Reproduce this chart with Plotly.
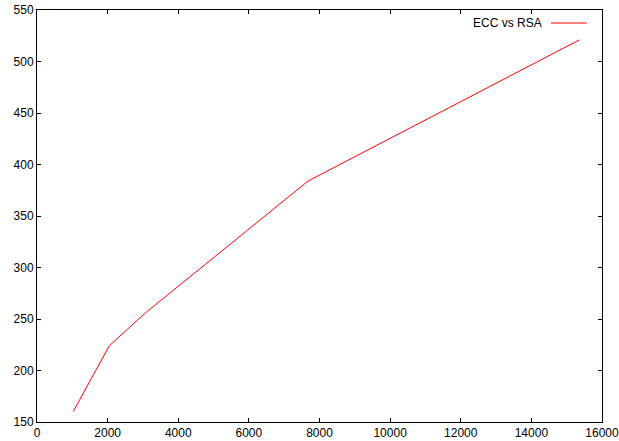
import plotly.graph_objects as go

rsa_bits = [1024, 2048, 3072, 7680, 15360]
ecc_bits = [160, 224, 256, 384, 521]
series_name = "ECC vs RSA"
x_ticks = [0, 2000, 4000, 6000, 8000, 10000, 12000, 14000, 16000]
y_ticks = [150, 200, 250, 300, 350, 400, 450, 500, 550]

W, H = 619, 441
L, R, T, B = 37, 602, 10, 422
FONT = "Liberation Sans, Arial, Helvetica, sans-serif"

fig = go.Figure()
fig.add_trace(go.Scatter(x=rsa_bits, y=ecc_bits, mode="lines",
                         line=dict(color="#ff0000", width=1), name=series_name,
                         showlegend=False, hoverinfo="skip"))

axis_common = dict(showgrid=False, zeroline=False, showline=True, linecolor="black",
                   linewidth=1, mirror="allticks", ticks="inside", ticklen=4,
                   tickcolor="black", tickwidth=1, automargin=False,
                   ticklabeloverflow="allow",
                   tickfont=dict(family=FONT, size=12, color="black"))

fig.update_xaxes(range=[0, 16000], tickvals=x_ticks, ticktext=[str(v) for v in x_ticks], **axis_common)
fig.update_yaxes(range=[150, 550], tickvals=y_ticks, ticktext=[str(v) for v in y_ticks], **axis_common)

# gnuplot-style key: text on left, sample on right
key_y = 1 - (23 - T) / (B - T)
fig.add_annotation(xref="paper", yref="paper", x=(544 - L) / (R - L), y=key_y,
                   text=series_name, showarrow=False, xanchor="right", yanchor="middle",
                   font=dict(family=FONT, size=12, color="black"))
fig.add_shape(type="line", xref="paper", yref="paper",
              x0=(551 - L) / (R - L), x1=(587 - L) / (R - L), y0=key_y, y1=key_y,
              line=dict(color="#ff0000", width=1))

fig.update_layout(width=W, height=H, margin=dict(l=L, r=W - R, t=T, b=H - B, autoexpand=False),
                  plot_bgcolor="white", paper_bgcolor="white", showlegend=False)

fig.write_html("out.html", config={"displayModeBar": False},
               post_script="document.body.style.margin='0';document.body.style.overflow='hidden';")
